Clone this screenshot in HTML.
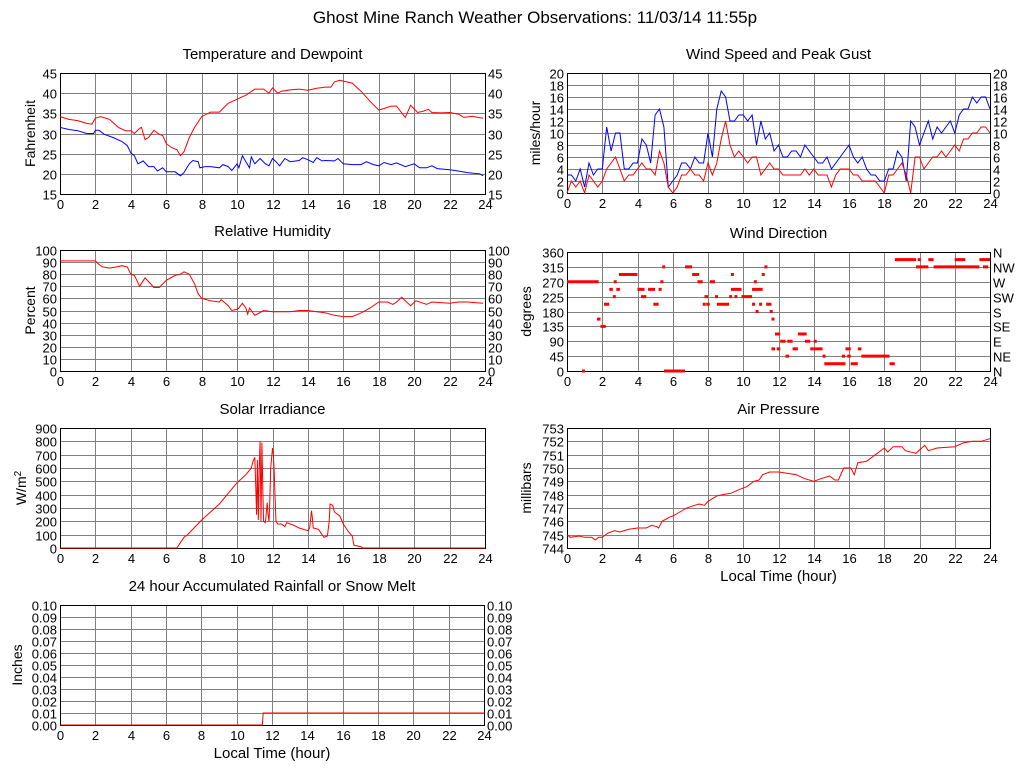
<!DOCTYPE html>
<html><head><meta charset="utf-8"><style>
body{margin:0;background:#fff;}
svg{display:block;font-family:"Liberation Sans",sans-serif;}
</style></head><body>
<svg id="c" width="1024" height="768" viewBox="0 0 1024 768">
<text x="535" y="23" font-size="17" text-anchor="middle">Ghost Mine Ranch Weather Observations: 11/03/14 11:55p</text>
</svg>
<script>
// ---- data ----
const hours = [0,2,4,6,8,10,12,14,16,18,20,22,24];
const tempT = [0,0.5,1,1.5,1.8,2,2.3,2.8,3.3,3.7,4,4.2,4.5,4.6,4.8,5,5.3,5.6,5.8,6,6.3,6.6,6.8,7,7.3,7.6,8,8.5,9,9.5,10,10.5,11,11.5,11.8,12,12.3,12.5,13,13.5,14,14.5,15,15.3,15.5,15.8,16,16.5,17,17.5,18,18.3,18.7,19,19.5,19.8,20.2,20.5,20.8,21,21.5,22,22.5,22.8,23.3,23.6,23.9];
const tempV = [34.2,33.5,33.2,32.5,32.3,33.8,34.2,33.5,31.5,30.7,30.7,30,31.3,31.5,28.5,29,30.8,29.8,29.5,27.5,26.5,26,24.5,25.5,29,31.5,34.2,35.3,35.3,37.5,38.5,39.5,41,41,40,41.3,40,40.5,40.8,41,40.7,41.2,41.5,41.5,42.8,43.2,43,42.5,40.5,38,35.8,36.2,36.8,36.8,34,37,35.2,35.5,36,35.2,35.1,35.2,34.8,34,34.3,34,33.8];
const dewT = [0,0.5,1,1.5,1.9,2,2.2,2.5,3,3.5,3.8,4,4.2,4.4,4.7,5,5.3,5.5,5.8,6,6.5,6.8,7,7.3,7.5,7.8,7.9,8.2,8.5,9,9.2,9.5,9.7,10,10.1,10.3,10.5,10.7,10.8,11,11.3,11.6,11.8,12,12.2,12.4,12.7,13,13.5,13.7,14,14.3,14.5,14.8,15,15.5,15.7,16,16.5,17,17.3,17.7,18,18.3,18.7,19,19.5,20,20.3,20.7,21,21.3,22,22.5,23,23.7,23.9];
const dewV = [31.5,31,30.7,30,30,30.8,30.8,29.8,29,28,27,25.2,24.5,22.5,23.2,21.8,21.8,20.7,21.5,20.5,20.5,19.5,20.3,22.5,23.3,23,21.5,21.8,21.8,21.5,22.3,21.8,20.8,22.5,21.5,24.5,23,21.5,24.2,22.5,23.8,22.5,22,23.8,23,22,23.8,23,23.3,24,23.5,22.8,24,23.2,23.3,23.2,23.8,22.5,22.3,22.3,23,22.3,22,22.8,22.3,22.7,21.8,22.5,21.5,21.5,22,21.3,21,20.7,20.3,20,19.5];
const gustV = [3,3,2,4, 1,5,3,4, 4,11,7,10, 10,4,4,5, 5,9,8,5, 13,14,11,1, 2,3,5,5, 4,6,5,5, 10,6,14,17, 16,12,12,13, 13,12,13,8, 12,9,10,7, 8,6,6,7, 7,6,8,7, 6,5,5,6, 4,5,6,7, 8,6,5,6, 4,3,3,2, 2,4,4,7, 6,2,12,11, 8,10,12,9, 11,10,11,12, 10,13,14,14, 16,15,16,16, 14];
const speedV = [0,2,1,2, 0,3,2,1, 2,4,5,6, 4,2,3,3, 4,5,4,4, 3,7,5,1, 0,1,3,3, 4,3,3,2, 5,3,5,9, 12,8,6,7, 6,5,6,6, 3,4,5,4, 4,3,3,3, 3,3,4,3, 4,3,3,3, 1,3,4,4, 4,3,3,2, 2,2,2,1, 0,3,3,4, 5,3,0,6, 6,4,5,6, 6,7,6,7, 8,7,9,9, 10,10,11,11, 10];
const rhT = [0,2,2.2,2.4,2.8,3.2,3.5,3.8,4,4.2,4.5,4.8,5,5.3,5.6,6,6.5,6.8,7,7.3,7.6,7.8,8,8.5,9,9.1,9.5,9.7,10,10.1,10.3,10.5,10.6,10.7,11,11.5,12,12.5,13,13.5,14,14.5,15,15.5,16,16.5,17,17.5,18,18.5,18.8,19,19.3,19.5,19.8,20.1,20.7,21,22,22.5,23,23.9];
const rhV = [91,91,88,86,85,86,87,86,80,79,70,77,74,69,69,75,79,80,82,80,72,64,60,58,57,59,54,50,51,52,56,52,47,52,46,50,49,49,49,50,50,49,48,46,45,45,48,52,57,57,55,57,61,58,54,58,55,57,56,57,57,56];
const dirStart = [0,0.85,1.7,1.9,2.1,2.4,2.6,2.65,2.8,2.95,4.0,4.2,4.6,4.9,5.2,5.3,5.4,5.5,6.7,7.1,7.4,7.7,7.8,7.9,8.1,8.4,8.5,9.2,9.3,9.3,9.5,9.9,10.5,10.6,10.5,10.7,10.9,11.05,11.2,11.3,11.5,11.6,11.6,11.8,11.9,12.1,12.4,12.5,12.8,13.1,13.5,13.8,14.0,14.0,14.5,14.6,15.6,15.8,15.9,16.1,16.5,16.7,18.3,18.6,19.9,19.8,20.5,20.8,22.0,22.0,23.4,23.6];
const dirEnd   = [1.8,0.95,1.9,2.2,2.4,2.6,2.7,2.75,3.0,4.0,4.4,4.5,5.0,5.2,5.3,5.4,5.5,6.7,7.1,7.5,7.7,7.8,8.0,8.1,8.4,8.5,9.2,9.3,9.4,9.9,9.6,10.5,10.6,10.7,11.1,10.8,11.0,11.15,11.3,11.6,11.6,11.7,11.8,12.1,12.1,12.4,12.6,12.8,13.1,13.6,13.8,14.0,14.1,14.5,14.6,15.8,15.7,16.1,16.1,16.5,16.7,18.3,18.6,19.8,20.0,20.5,20.8,22.0,22.6,23.4,24,23.9];
const dirV     = [270,0,157,135,202,247,225,270,247,292,247,225,247,202,247,270,315,0,315,292,270,202,225,202,270,225,202,225,292,247,225,225,202,270,247,180,202,292,315,202,180,157,67,112,67,90,45,90,67,112,90,67,90,67,45,22,45,67,45,22,67,45,22,337,337,315,337,315,337,315,337,315];
const solT = [0,6.6,6.7,7,7.2,8,9,9.5,10,10.5,10.8,10.9,11,11.05,11.1,11.15,11.2,11.25,11.3,11.35,11.4,11.45,11.5,11.6,11.7,11.75,11.8,11.85,11.9,12,12.05,12.1,12.15,12.2,12.3,12.5,12.7,12.8,13,13.2,13.5,14,14.1,14.2,14.25,14.3,14.6,14.8,14.9,15.1,15.2,15.25,15.4,15.5,15.8,16,16.3,16.5,16.6,17,17.1,24];
const solV = [0,0,20,80,100,210,330,410,490,550,600,650,680,470,250,660,210,600,800,200,790,440,200,190,340,250,200,350,600,750,700,550,350,200,180,180,160,190,180,170,150,130,150,280,230,150,140,100,80,90,200,330,320,270,240,180,120,90,20,10,0,0];
const presT = [0,0.2,0.7,1,1.4,1.6,1.8,2,2.3,2.7,3,3.5,4,4.5,4.8,5.1,5.2,5.4,5.8,6,6.4,6.8,7,7.5,7.8,8,8.5,8.8,9.3,9.8,10.2,10.6,10.9,11.1,11.5,12,12.5,13,13.5,14,14.4,14.9,15.2,15.4,15.7,16.1,16.3,16.5,17,17.5,18,18.2,18.5,19,19.2,19.8,20.3,20.5,21,22,22.5,23,23.5,24];
const presV = [745,744.8,744.9,744.8,744.8,744.6,744.8,744.8,745.1,745.3,745.2,745.4,745.5,745.5,745.7,745.6,745.5,746,746.3,746.4,746.7,747,747.1,747.3,747.2,747.5,747.9,748,748.1,748.4,748.6,749,749.1,749.5,749.7,749.7,749.6,749.5,749.2,749,749.2,749.4,749.1,749.1,750,750,749.5,750.4,750.5,751,751.5,751.2,751.6,751.6,751.3,751.1,751.7,751.3,751.5,751.6,751.9,752,752,752.2];
const rainT = [0,11.45,11.5,24];
const rainV = [0,0,0.01,0.01];

// ---- drawing ----
const NS="http://www.w3.org/2000/svg";
const svg=document.getElementById('c');
function mk(tag,attrs,parent){const e=document.createElementNS(NS,tag);for(const k in attrs)e.setAttribute(k,attrs[k]);(parent||svg).appendChild(e);return e;}
function panel(p){
  const g=mk('g',{});
  
  
  const x=h=>p.l+(h/24)*(p.r-p.l);
  const y=v=>p.b-(v-p.min)/(p.max-p.min)*(p.b-p.t);
  for(let i=0;i<p.yTicks.length;i++){
    const v=p.yTicks[i];const yy=Math.round(y(v))+0.5;
    const gl=mk('line',{x1:p.l,x2:p.r,y1:yy,y2:yy,stroke:'#808080','stroke-width':1},g);
    
    
    const tl=mk('text',{x:p.l-3,y:yy+5,'font-size':13,'text-anchor':'end'},g);
    tl.textContent=p.yLabels[i];
    
    
    if(p.rLabels){
      const tr=mk('text',{x:p.r+3,y:yy+5,'font-size':13},g);
      tr.textContent=p.rLabels[i];
      
      
    }
  }
  for(const h of hours){
    const xx=Math.round(x(h))+0.5;
    const gl=mk('line',{x1:xx,x2:xx,y1:p.t,y2:p.b,stroke:'#808080','stroke-width':1},g);
    
    
    const tx=mk('text',{x:xx,y:p.b+15,'font-size':13,'text-anchor':'middle'},g);
    tx.textContent=h;
    
    
  }
  const fr=mk('rect',{x:p.l+0.5,y:p.t+0.5,width:p.r-p.l,height:p.b-p.t,fill:'none',stroke:'#000','stroke-width':1},g);
  
  
  const ti=mk('text',{x:(p.l+p.r)/2,y:p.t-14,'font-size':15,'text-anchor':'middle'},g);
  ti.textContent=p.title;
  
  
  const yt=mk('text',{x:0,y:0,'font-size':14,'text-anchor':'middle',transform:`translate(${p.yx},${(p.t+p.b)/2}) rotate(-90)`},g);
  yt.innerHTML=p.ytitle;
  
  
  if(p.xtitle){
    const xt=mk('text',{x:(p.l+p.r)/2,y:p.b+33,'font-size':15,'text-anchor':'middle'},g);
    xt.textContent='Local Time (hour)';
    
    
  }
  return {g,x,y};
}
function line(P,ts,vs,color,name){
  const pts=ts.map((t,i)=>P.x(t).toFixed(1)+','+P.y(vs[i]).toFixed(1)).join(' ');
  const pl=mk('polyline',{points:pts,fill:'none',stroke:color,'stroke-width':1},P.g);
  
  
}
function range(a,b,s){const r=[];for(let v=a;v<=b+1e-9;v+=s)r.push(+v.toFixed(4));return r;}
const L=60,R=485,L2=567,R2=990;
const tops=[73,250,428,605],H=121;

// Temperature
let ty=range(15,45,5);
let P=panel({name:'temperature-panel',l:L,r:R,t:tops[0],b:tops[0]+H,min:15,max:45,yTicks:ty,yLabels:ty,rLabels:ty,title:'Temperature and Dewpoint',ytitle:'Fahrenheit',yx:35});
line(P,tempT,tempV,'#ff0000','temperature-line');
line(P,dewT,dewV,'#0000ff','dewpoint-line');
// Wind
ty=range(0,20,2);
P=panel({name:'wind-speed-panel',l:L2,r:R2,t:tops[0],b:tops[0]+H-1,min:0,max:20,yTicks:ty,yLabels:ty,rLabels:ty,title:'Wind Speed and Peak Gust',ytitle:'miles/hour',yx:540});
const windT=gustV.map((_,i)=>i*0.25);
line(P,windT,gustV,'#0000ff','peak-gust-line');
line(P,windT,speedV,'#ff0000','wind-speed-line');
// RH
ty=range(0,100,10);
P=panel({name:'humidity-panel',l:L,r:R,t:tops[1],b:tops[1]+H,min:0,max:100,yTicks:ty,yLabels:ty,rLabels:ty,title:'Relative Humidity',ytitle:'Percent',yx:35});
line(P,rhT,rhV,'#ff0000','humidity-line');
// Wind dir
ty=range(0,360,45);
P=panel({name:'wind-direction-panel',l:L2,r:R2,t:tops[1]+2,b:tops[1]+H,min:0,max:360,yTicks:ty,yLabels:ty,rLabels:['N','NE','E','SE','S','SW','W','NW','N'],title:'Wind Direction',ytitle:'degrees',yx:531});
for(let i=0;i<dirV.length;i++){
  const x1=P.x(dirStart[i]),x2=P.x(dirEnd[i]);
  const rc=mk('rect',{x:x1,y:P.y(dirV[i])-1.5,width:Math.max(3,x2-x1),height:3,fill:'#ff0000'},P.g);
  
  
}
// Solar
ty=range(0,900,100);
P=panel({name:'solar-panel',l:L,r:R,t:tops[2],b:tops[2]+H-1,min:0,max:900,yTicks:ty,yLabels:ty,title:'Solar Irradiance',ytitle:'W/m<tspan font-size="10" dy="-5">2</tspan>',yx:26});
line(P,solT,solV,'#ff0000','solar-line');
// Pressure
ty=range(744,753,1);
P=panel({name:'pressure-panel',l:L2,r:R2,t:tops[2],b:tops[2]+H-1,min:744,max:753,yTicks:ty,yLabels:ty,title:'Air Pressure',ytitle:'millibars',yx:531,xtitle:true});
line(P,presT,presV,'#ff0000','pressure-line');
// Rain
ty=range(0,0.1,0.01);
const tyl=ty.map(v=>v.toFixed(2));
P=panel({name:'rainfall-panel',l:L,r:R-1,t:tops[3],b:tops[3]+H-1,min:0,max:0.1,yTicks:ty,yLabels:tyl,rLabels:tyl,title:'24 hour Accumulated Rainfall or Snow Melt',ytitle:'Inches',yx:22,xtitle:true});
line(P,rainT,rainV,'#ff0000','rainfall-line');
</script>
</body></html>
